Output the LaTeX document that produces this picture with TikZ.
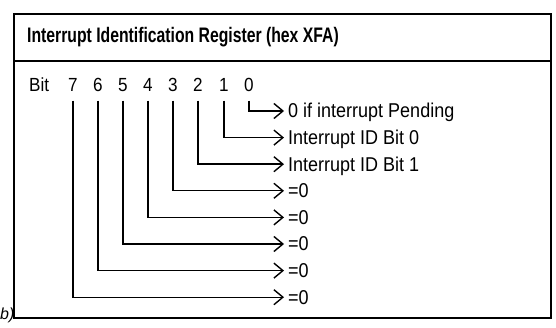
\documentclass[tikz,border=0pt]{standalone}
\usepackage{fontspec}
\setmainfont{Liberation Sans}
\newfontfamily\titlefont{Liberation Sans}[FakeStretch=0.75]
\newfontfamily\bodyfont{Liberation Sans}[FakeStretch=0.9]
\usetikzlibrary{arrows.meta}
\begin{document}
\begin{tikzpicture}[x=1pt,y=-1pt,
  frame/.style={line width=1.4pt},
  conn/.style={line width=1.4pt, -{Straight Barb[length=9pt,width=15pt,line width=1.4pt]}, shorten >=4pt},
  digit/.style={font=\bodyfont\fontsize{19}{19}\selectfont, inner sep=0pt, text height=13pt, text depth=0pt},
  lab/.style={font=\bodyfont\fontsize{20}{20}\selectfont, inner sep=0pt, anchor=west, text height=14pt, text depth=0pt}]
\useasboundingbox (0,0) rectangle (556,328);
\draw[frame] (14,14) rectangle (551,318);
\draw[frame] (14,61) -- (551,61);
\node[anchor=west, inner sep=0pt, font=\titlefont\bfseries\fontsize{21}{21}\selectfont] (title) at (27,37) {Interrupt Identification Register (hex XFA)};
\node[digit, anchor=west] (bit) at (29,85) {Bit};
\foreach \b/\x in {7/73,6/98,5/123,4/148,3/173,2/198,1/224,0/249}
  \node[digit] (d\b) at (\x,85) {\b};
\node[lab] (l0) at (288,111) {0 if interrupt Pending};
\node[lab] (l1) at (288,137.6) {Interrupt ID Bit 0};
\node[lab] (l2) at (288,164.2) {Interrupt ID Bit 1};
\node[lab] (l3) at (288,190.8) {=0};
\node[lab] (l4) at (288,217.4) {=0};
\node[lab] (l5) at (288,244) {=0};
\node[lab] (l6) at (288,270.6) {=0};
\node[lab] (l7) at (288,297.2) {=0};
\foreach \b in {0,...,7}
  \draw[conn] ([yshift=-9pt]d\b.south) |- (l\b.west);
\node[anchor=west, inner sep=0pt, font=\itshape\fontsize{16}{16}\selectfont] (cap) at (0,315) {b)};
\end{tikzpicture}
\end{document}
